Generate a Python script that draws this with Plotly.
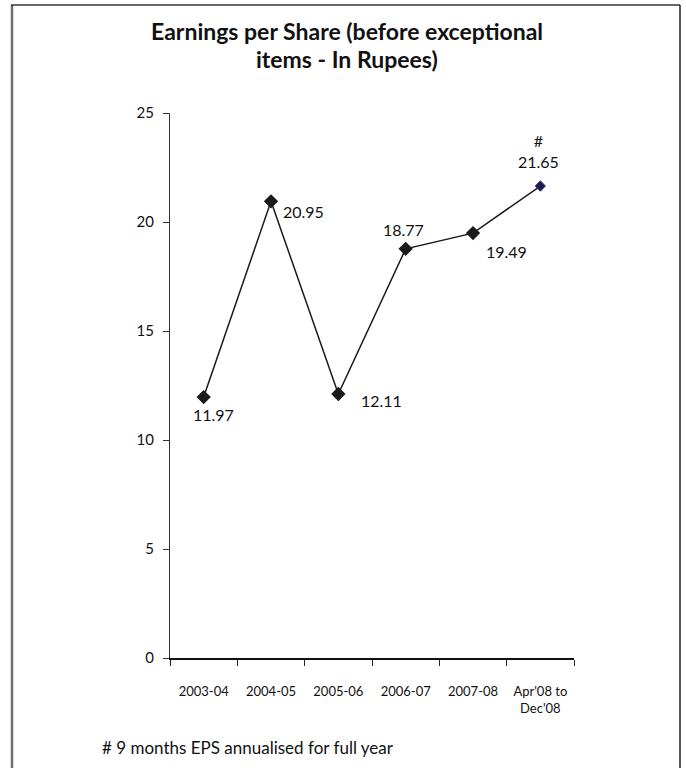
import plotly.graph_objects as go

# Earnings per share by financial year (Rs.)
periods = ["2003-04", "2004-05", "2005-06", "2006-07", "2007-08", "Apr'08 to<br>Dec'08"]
eps = [11.97, 20.95, 12.11, 18.77, 19.49, 21.65]
footnote = "# 9 months EPS annualised for full year"
title_lines = ["Earnings per Share (before exceptional", "items - In Rupees)"]
y_ticks = [0, 5, 10, 15, 20, 25]

# pixel offsets of each value label from its marker
label_shift = [(10, -17), (32, -10), (43, -6), (-2, 19), (33, -18), (-2, 13)]

FONT = "Lato"
W, H = 686, 768
L, R, T, B = 170, 112, 113, 110
pw, ph = W - L - R, H - T - B


def px(x):
    return (x - L) / pw


def py(y):
    return (H - B - y) / ph


fig = go.Figure()

fig.add_trace(go.Scatter(
    x=periods, y=eps, mode="lines",
    line=dict(color="#1a1a1a", width=1.5),
    hoverinfo="skip", showlegend=False,
))
fig.add_trace(go.Scatter(
    x=periods[:-1], y=eps[:-1], mode="markers",
    marker=dict(symbol="diamond", size=11, color="#1a1a1a"),
    showlegend=False,
))
fig.add_trace(go.Scatter(
    x=periods[-1:], y=eps[-1:], mode="markers",
    marker=dict(symbol="diamond", size=8, color="#1c1c44",
                line=dict(color="#3a3a9a", width=1)),
    showlegend=False,
))

annotations = []
last = len(eps) - 1
for i, (p, v) in enumerate(zip(periods, eps)):
    dx, dy = label_shift[i]
    text = f"{v:.2f}"
    if i == last:
        text = "#<br>" + text
    annotations.append(dict(
        x=p, y=v, xref="x", yref="y", text=text, showarrow=False,
        xshift=dx, yshift=dy, yanchor="bottom" if i == last else "middle",
        font=dict(family=FONT, size=16, color="#111"),
    ))

# two-line bold heading, centred on the page
for line, ypix in zip(title_lines, [31, 59]):
    annotations.append(dict(
        x=px(347), y=py(ypix), xref="paper", yref="paper",
        text=f"<b>{line}</b>", showarrow=False, xanchor="center", yanchor="middle",
        font=dict(family=FONT, size=23, color="#111"),
    ))

annotations.append(dict(
    x=px(100), y=py(747), xref="paper", yref="paper",
    xanchor="left", yanchor="middle", text=footnote, showarrow=False,
    font=dict(family=FONT, size=17, color="#111"),
))

shapes = [
    dict(type="line", xref="paper", yref="paper", x0=px(12), x1=px(12),
         y0=py(800), y1=py(5), line=dict(color="#6e6e6e", width=2.5)),
    dict(type="line", xref="paper", yref="paper", x0=px(11), x1=px(680),
         y0=py(5), y1=py(5), line=dict(color="#333", width=1.5)),
    dict(type="line", xref="paper", yref="paper", x0=px(680), x1=px(680),
         y0=py(5), y1=py(800), line=dict(color="#222", width=1.5)),
]

fig.update_layout(
    width=W, height=H,
    margin=dict(l=L, r=R, t=T, b=B),
    paper_bgcolor="white", plot_bgcolor="white",
    xaxis=dict(
        type="category", tickson="boundaries", ticks="outside", ticklen=6,
        tickcolor="#222", showline=True, linecolor="#111", linewidth=2,
        showgrid=False, zeroline=False, range=[-0.5, 5.5],
        tickfont=dict(family=FONT, size=13, color="#111"),
        ticklabelstandoff=20,
    ),
    yaxis=dict(
        range=[0, 25], tickvals=y_ticks, ticks="outside", ticklen=6,
        tickcolor="#333", showline=True, linecolor="#333", linewidth=1,
        showgrid=False, zeroline=False,
        tickfont=dict(family=FONT, size=15, color="#111"),
        ticklabelstandoff=6,
    ),
    annotations=annotations,
    shapes=shapes,
)

fig.write_html("out.html")
